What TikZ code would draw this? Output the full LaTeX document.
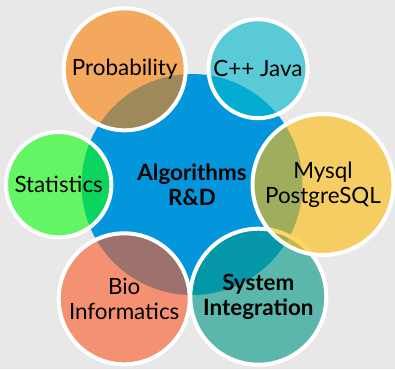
\documentclass[tikz,border=0pt]{standalone}
\usepackage{fontspec}
\setmainfont{Lato}
\definecolor{bggray}{RGB}{232,232,232}
\definecolor{coreblue}{RGB}{3,150,220}
\definecolor{probcol}{RGB}{252,130,10}
\definecolor{javacol}{RGB}{6,184,206}
\definecolor{sqlcol}{RGB}{255,190,16}
\definecolor{statcol}{RGB}{19,253,19}
\definecolor{biocol}{RGB}{253,92,44}
\definecolor{syscol}{RGB}{6,152,135}
\tikzset{
	bubble/.style={circle, draw=white, line width=3pt, fill opacity=0.62, text opacity=1,
		inner sep=0pt, align=center, minimum size=0.75*#1pt},
	bubble text/.style={font=\fontsize{16.8}{19}\selectfont},
	bold text/.style={font=\fontsize{16.8}{19}\selectfont\bfseries}}

\begin{document}
\begin{tikzpicture}[x=0.75pt,y=0.75pt,yscale=-1,xscale=1]
	%Background
	\fill [bggray] (0,0) rectangle (395,369) ;
	\useasboundingbox (0,0) rectangle (395,369) ;

	%Shape: Circle [core]
	\node [circle, fill=coreblue, inner sep=0pt, align=center, minimum size=0.75*221pt, bold text] (core) at (192,184.5) {Algorithms\\R\&D};

	%Shape: Circle [outer ring]
	\node [bubble=122, fill=probcol, bubble text] (prob) at (124.7,69.3) {Probability};
	\node [bubble=99, fill=javacol, bubble text] (java) at (258,68.7) {C++ Java};
	\node [bubble=105.4, fill=statcol, bubble text] (stat) at (58.7,184.7) {Statistics};
	\node [bubble=131, fill=biocol, bubble text] (bio) at (124.2,298.8) {Bio\\Informatics};
	\node [bubble=136, fill=syscol, bold text] (sys) at (258.3,296.7) {System\\Integration};
	\node [bubble=141, fill=sqlcol, bubble text] (sql) at (323,184.5) {Mysql\\PostgreSQL};

\end{tikzpicture}
\end{document}
